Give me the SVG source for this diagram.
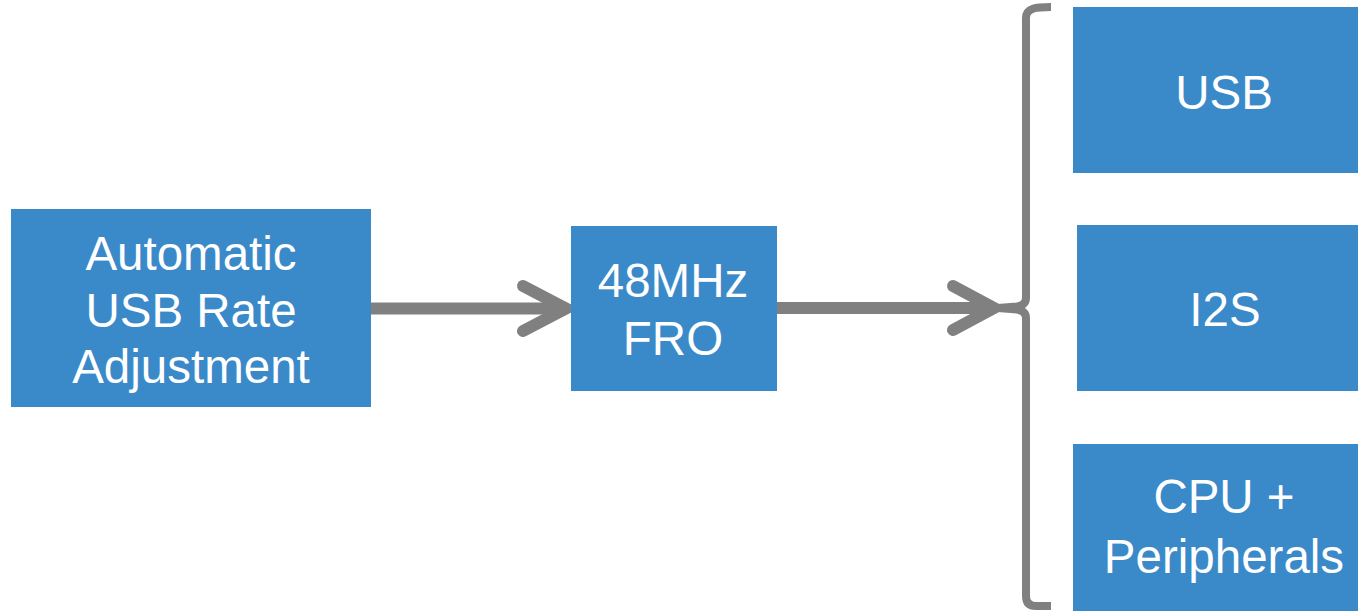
<svg xmlns="http://www.w3.org/2000/svg" width="1358" height="611" viewBox="0 0 1358 611">
<style>
.box{fill:#3A89C9}
.t{font-family:"Liberation Sans",Arial,sans-serif;font-size:47.5px;fill:#ffffff;text-anchor:middle}
.conn{stroke:#808080;fill:none;stroke-width:12}
.head{stroke:#808080;fill:none;stroke-width:12;stroke-linecap:round;stroke-linejoin:miter}
.br{stroke:#808080;fill:none;stroke-width:8}
</style>
<rect width="1358" height="611" fill="#ffffff"/>
<g id="connectors">
<line class="conn" x1="371" y1="308.5" x2="562" y2="308.5"/>
<polyline class="head" points="523,286 566,308.5 523,331"/>
<line class="conn" x1="777" y1="308" x2="990" y2="308"/>
<polyline class="head" points="953,286 994,308 953,330"/>
</g>
<g id="bracket">
<path class="br" d="M1051,7 C1036,7 1026,8 1026,18 V298 Q1026,305 1017,306.5 L998,308 L1017,309.5 Q1026,311 1026,318 V596 Q1026,606 1036,606 L1051,606"/>
</g>
<g id="node-auto">
<rect class="box" x="11" y="209" width="360" height="198"/>
<text class="t" x="191" y="270">Automatic</text>
<text class="t" x="191" y="327">USB Rate</text>
<text class="t" x="191" y="383">Adjustment</text>
</g>
<g id="node-fro">
<rect class="box" x="571" y="226" width="206" height="165"/>
<text class="t" x="673" y="297">48MHz</text>
<text class="t" x="673" y="355">FRO</text>
</g>
<g id="node-usb">
<rect class="box" x="1073" y="7" width="285" height="166"/>
<text class="t" x="1224" y="109">USB</text>
</g>
<g id="node-i2s">
<rect class="box" x="1077" y="225" width="281" height="166"/>
<text class="t" x="1225" y="326">I2S</text>
</g>
<g id="node-cpu">
<rect class="box" x="1073" y="444" width="285" height="167"/>
<text class="t" x="1224" y="513">CPU +</text>
<text class="t" x="1224" y="573">Peripherals</text>
</g>
</svg>
